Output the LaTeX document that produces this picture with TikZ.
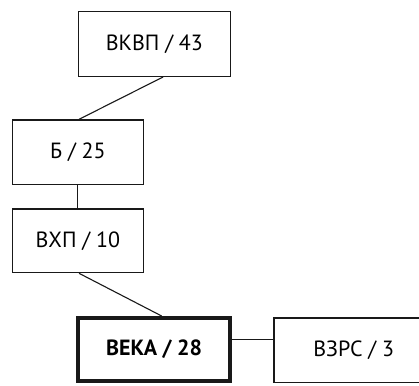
\documentclass[tikz,border=0pt]{standalone}
\usepackage{fontspec}
\setmainfont{PT Sans}
\begin{document}
\begin{tikzpicture}[x=1pt,y=-1pt,
  box/.style={draw=black!90, line width=1.3pt, inner sep=0pt, font=\fontsize{22}{26}\selectfont},
  link/.style={draw=black!90, line width=1.1pt}]
\useasboundingbox (0,0) rectangle (419,385);
\node[box, minimum width=152pt, minimum height=65pt] (vkvp) at (154.35,43.85) {ВКВП / 43};
\node[box, minimum width=131pt, minimum height=64.4pt] (b) at (77.85,152.15) {Б / 25};
\node[box, minimum width=131pt, minimum height=63.7pt] (vhp) at (77.85,240.8) {ВХП / 10};
\node[box, line width=4pt, minimum width=152.3pt, minimum height=63.3pt, font=\fontsize{22}{26}\selectfont\bfseries] (veka) at (154.15,349.65) {ВЕКА / 28};
\node[box, minimum width=159.5pt, minimum height=64.7pt] (vzrs) at (353.7,350.3) {ВЗРС / 3};
\draw[link] ([xshift=8.7pt]vkvp.south) -- ([xshift=1.2pt]b.north);
\draw[link] (b.south) -- (vhp.north);
\draw[link] ([xshift=1.2pt]vhp.south) -- ([xshift=7.5pt]veka.north);
\draw[link] ([yshift=10pt]veka.east) -- ([yshift=10pt]veka.east -| vzrs.west);
\end{tikzpicture}
\end{document}
